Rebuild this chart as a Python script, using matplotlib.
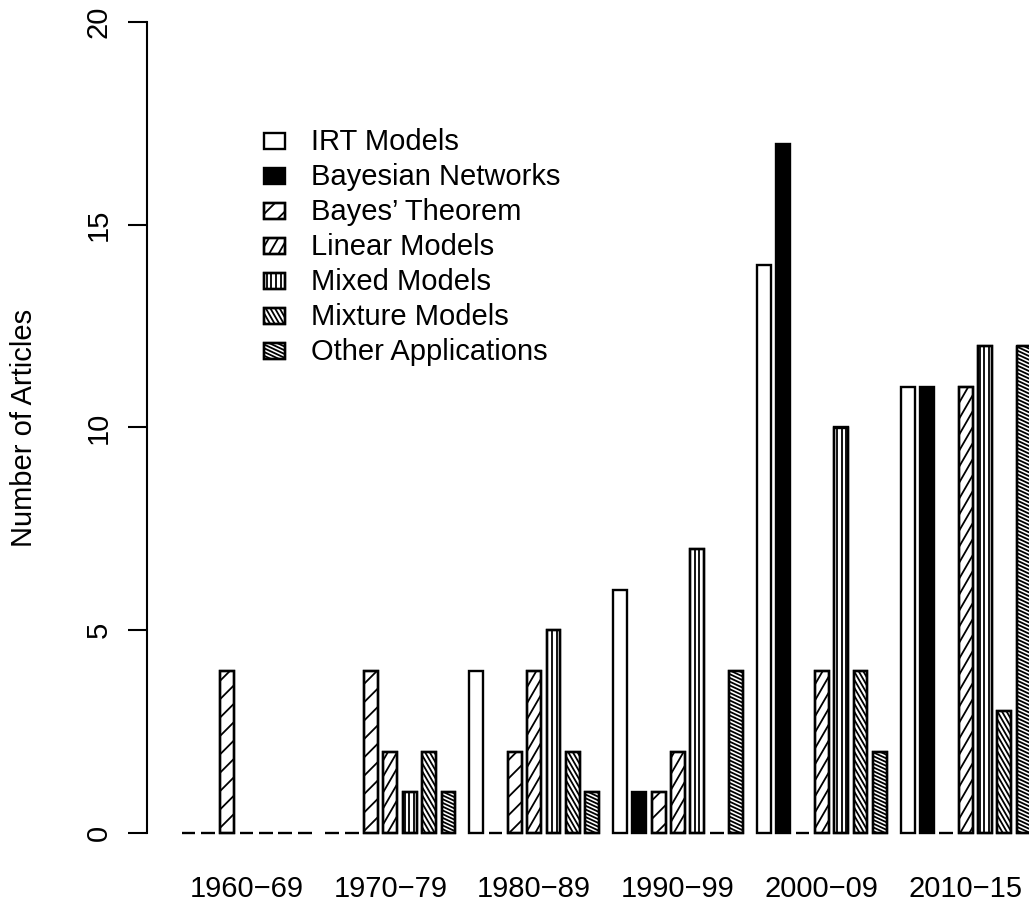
import numpy as np
import matplotlib.pyplot as plt
from matplotlib.patches import Rectangle
from matplotlib.collections import LineCollection

plt.rcParams['font.family'] = ['Liberation Sans', 'DejaVu Sans']

# ----------------- DATA -----------------
periods = ["1960\u221269", "1970\u221279", "1980\u221289", "1990\u221299", "2000\u221209", "2010\u221215"]
series = ["IRT Models", "Bayesian Networks", "Bayes\u2019 Theorem", "Linear Models",
          "Mixed Models", "Mixture Models", "Other Applications"]

irt = [0, 0, 4, 6, 14, 11]
bayes_net = [0, 0, 0, 1, 17, 11]
bayes_thm = [4, 4, 2, 1, 0, 0]
linear = [0, 2, 4, 2, 4, 11]
mixed = [0, 1, 5, 7, 10, 12]
mixture = [0, 2, 2, 0, 4, 3]
other = [0, 1, 1, 4, 2, 12]
counts = [irt, bayes_net, bayes_thm, linear, mixed, mixture, other]

# fill colour, hatch angle (deg), hatch spacing (px)
styles = [("white", None, None), ("black", None, None), ("white", 45, 13),
          ("white", 60, 8), ("white", 90, 4.6), ("white", 120, 4.0),
          ("white", 155, 3.4)]

EDGE_LW = 1.7
HATCH_LW = 1.3

# ----------------- LAYOUT -----------------
W, H = 1029, 907
fig = plt.figure(figsize=(W / 100, H / 100), dpi=100)

# R-like barplot geometry: width 1, space c(0.4, 1)
bw, s_in, s_grp = 1.0, 0.4, 1.0
n_ser = len(series)
grp_w = n_ser * bw + (n_ser - 1) * s_in + s_grp
x_lo = 1 - 0.04 * (len(periods) * grp_w)
x_hi = len(periods) * grp_w + 0.04 * (len(periods) * grp_w)
ppx = 13.83          # pixels per x unit
ppy = (833 - 22) / 20  # pixels per y unit
left_px = 147
bottom_px = 833 + 0.8 * ppy
ax = fig.add_axes([left_px / W, (H - bottom_px) / H,
                   (x_hi - x_lo) * ppx / W, 21.6 * ppy / H])
ax.set_xlim(x_lo, x_hi)
ax.set_ylim(-0.8, 20.8)

bars = []
for i, vals in enumerate(counts):
    xs = [s_grp + g * grp_w + i * (bw + s_in) + bw / 2 for g in range(len(periods))]
    b = ax.bar(xs, vals, width=bw, color=styles[i][0], edgecolor="black",
               linewidth=EDGE_LW, clip_on=False, zorder=2)
    bars.append(b)

centers = [s_grp + g * grp_w + (n_ser * bw + (n_ser - 1) * s_in) / 2 for g in range(len(periods))]
ax.set_xticks(centers)
ax.set_xticklabels(periods, fontsize=21)
ax.tick_params(axis="x", length=0, pad=7)

ax.set_yticks([0, 5, 10, 15, 20])
ax.set_yticklabels(["0", "5", "10", "15", "20"], fontsize=21, rotation=90, va="center")
ax.tick_params(axis="y", length=13.7, width=1.5, pad=11)
ax.spines["left"].set_bounds(0, 20)
ax.spines["left"].set_linewidth(1.5)
for sp in ["top", "right", "bottom"]:
    ax.spines[sp].set_visible(False)
ax.patch.set_alpha(0)

ax.set_ylabel("Number of Articles", fontsize=21)
ax.yaxis.set_label_coords((38 - left_px) / ((x_hi - x_lo) * ppx), 0.5)

# ----------------- OVERLAY (pixel coords, y down) -----------------
ov = fig.add_axes([0, 0, 1, 1], zorder=5)
ov.set_xlim(0, W)
ov.set_ylim(H, 0)
ov.axis("off")


def hatch(x0, y0, w, h, angle, spacing, lw=HATCH_LW):
    clip = Rectangle((x0, y0), w, h, transform=ov.transData, fill=False, lw=0,
                     visible=False)
    ov.add_patch(clip)
    t = np.deg2rad(angle)
    d = np.array([np.cos(t), -np.sin(t)])
    n = np.array([np.sin(t), np.cos(t)])
    corners = np.array([[x0, y0], [x0 + w, y0], [x0, y0 + h], [x0 + w, y0 + h]])
    proj = corners @ n
    L = w + h
    ctr = np.array([x0 + w / 2, y0 + h / 2])
    segs = []
    for c in np.arange(np.floor(proj.min() / spacing) * spacing, proj.max() + spacing, spacing):
        p = c * n
        p = p + ((ctr - p) @ d) * d
        segs.append([p - L * d, p + L * d])
    lc = LineCollection(segs, colors="black", linewidths=lw)
    ov.add_collection(lc)
    lc.set_clip_path(clip)


fig.canvas.draw()
for i, b in enumerate(bars):
    fill, ang, sp = styles[i]
    if ang is None:
        continue
    for patch in b.patches:
        if patch.get_height() <= 0:
            continue
        bb = patch.get_window_extent()
        x0, x1 = bb.x0, bb.x1
        ytop, ybot = H - bb.y1, H - bb.y0
        hatch(x0, ytop, x1 - x0, ybot - ytop, ang, sp)
        ov.add_patch(Rectangle((x0, ytop), x1 - x0, ybot - ytop, fill=False,
                               edgecolor="black", lw=EDGE_LW))

# legend
leg_x, leg_y0, leg_dy = 264, 141, 35
box_w, box_h = 21, 16
for i, name in enumerate(series):
    fill, ang, sp = styles[i]
    cy = leg_y0 + i * leg_dy
    ov.add_patch(Rectangle((leg_x, cy - box_h / 2), box_w, box_h, facecolor=fill,
                           edgecolor="black", lw=EDGE_LW))
    if ang is not None:
        hatch(leg_x, cy - box_h / 2, box_w, box_h, ang, sp)
        ov.add_patch(Rectangle((leg_x, cy - box_h / 2), box_w, box_h, fill=False,
                               edgecolor="black", lw=EDGE_LW))
    ov.text(311, cy + 1, name, fontsize=21, va="center", ha="left")

fig.savefig("out.png", dpi=100)
